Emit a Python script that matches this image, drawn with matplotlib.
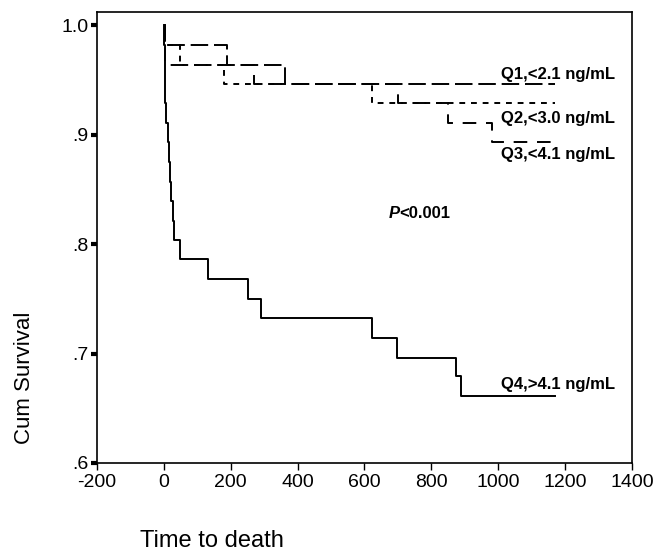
import matplotlib
matplotlib.use("Agg")
import matplotlib.pyplot as plt

plt.rcParams["font.family"] = ["Liberation Sans", "DejaVu Sans"]

# Kaplan-Meier steps (time in days, cumulative survival)
q1_time = [0, 3, 189, 361, 1170]
q1_surv = [1.0, 0.982, 0.964, 0.946, 0.946]

q2_time = [0, 3, 47, 180, 621, 1170]
q2_surv = [1.0, 0.982, 0.964, 0.946, 0.929, 0.929]

q3_time = [0, 2, 4, 271, 700, 850, 980, 1170]
q3_surv = [1.0, 0.982, 0.964, 0.946, 0.929, 0.911, 0.893, 0.893]

q4_time = [0, 1, 2, 3, 4, 5, 12, 16, 18, 20, 28, 30, 47, 132, 251, 291,
           623, 698, 873, 888, 1170]
q4_surv = [1.0, 0.982, 0.964, 0.946, 0.929, 0.911, 0.893, 0.875, 0.857,
           0.839, 0.821, 0.804, 0.786, 0.768, 0.750, 0.732, 0.714, 0.696,
           0.679, 0.661, 0.661]

labels = ["Q1,<2.1 ng/mL", "Q2,<3.0 ng/mL", "Q3,<4.1 ng/mL", "Q4,>4.1 ng/mL"]
label_y = [0.955, 0.915, 0.882, 0.672]

x_ticks = [-200, 0, 200, 400, 600, 800, 1000, 1200, 1400]
y_ticks = [0.6, 0.7, 0.8, 0.9, 1.0]
y_ticklabels = [".6", ".7", ".8", ".9", "1.0"]

fig = plt.figure(figsize=(6.67, 5.54), dpi=100)
ax = fig.add_axes([0.1454, 0.1643, 0.8021, 0.8141])

lw = 1.4
ax.step(q1_time, q1_surv, where="post", color="black", lw=lw,
        dashes=(9, 3))
ax.step(q2_time, q2_surv, where="post", color="black", lw=lw,
        dashes=(3, 3))
ax.step(q3_time, q3_surv, where="post", color="black", lw=lw,
        dashes=(7, 5))
ax.step(q4_time, q4_surv, where="post", color="black", lw=lw)

for lab, y in zip(labels, label_y):
    ax.text(1007, y, lab, fontsize=12, fontweight="bold",
            ha="left", va="center")

# P value: italic bold P followed by the rest
p_txt = ax.text(671, 0.828, "P", fontsize=12, fontweight="bold",
                fontstyle="italic", ha="left", va="center")
fig.canvas.draw()
bb = p_txt.get_window_extent()
ax.annotate("<0.001", xy=(671, 0.828), xytext=(bb.width * 72 / fig.dpi, 0),
            textcoords="offset points", fontsize=12, fontweight="bold",
            ha="left", va="center")

ax.set_xlim(-200, 1400)
ax.set_ylim(0.6, 1.012)
ax.set_xticks(x_ticks)
ax.set_xticklabels([str(v) for v in x_ticks])
ax.set_yticks(y_ticks)
ax.set_yticklabels(y_ticklabels)

ax.tick_params(axis="y", direction="out", length=4, width=3,
               labelsize=14, pad=2)
ax.tick_params(axis="x", direction="out", length=5, width=1,
               labelsize=14, pad=3)
for s in ax.spines.values():
    s.set_linewidth(1.2)

fig.text(0.037, 0.318, "Cum Survival", rotation=90, fontsize=16,
         ha="center", va="center")
fig.text(140 / 667, 1 - 541 / 554, "Time to death", fontsize=17,
         ha="left", va="center")

fig.savefig("out.png", dpi=100)
